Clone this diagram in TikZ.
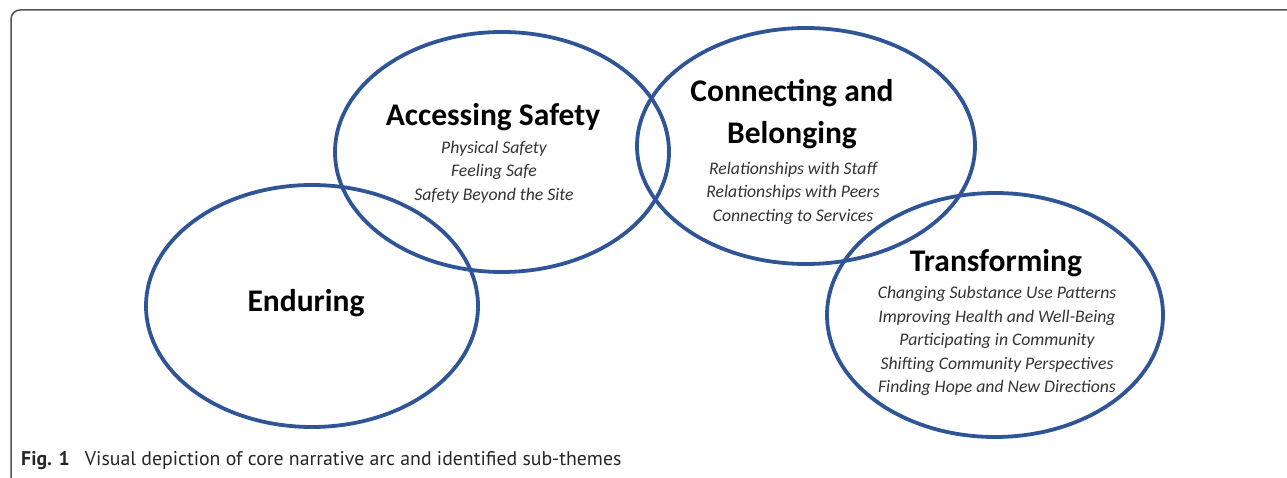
\documentclass[tikz,border=0pt]{standalone}
\usepackage{fontspec}
\setmainfont{Carlito}
\newfontfamily\capfont{PT Sans}
\definecolor{ringblue}{RGB}{47,85,151}
\definecolor{framegray}{RGB}{85,85,85}

\begin{document}
\begin{tikzpicture}[x=1pt,y=-1pt,
    ring/.style={draw=ringblue,line width=3.8pt},
    theme/.style={font=\fontsize{31.5}{42}\selectfont\bfseries,align=center,inner sep=0pt},
    subtheme/.style={font=\fontsize{17.7}{23.4}\selectfont\itshape,text=black!80,align=center,inner sep=0pt}]
    \useasboundingbox (0,0) rectangle (1287,478);
    % frame round the figure
    \draw[framegray,line width=1.5pt,rounded corners=9pt] (11,10) rectangle (1330,520);

    % the four rings
    \foreach \cx/\cy/\rx/\ry in {312/306/166/121, 502/152/167/120, 806/146/169/118, 995/315/168/122}{
        \draw[ring] (\cx,\cy) ellipse [x radius=\rx, y radius=\ry];
    }

    \node[theme] (enduring) at (306,303) {Enduring};

    \node[theme] (safety) at (493,117) {Accessing Safety};
    \node[subtheme] (safetysub) at (494,172) {Physical Safety\\Feeling Safe\\Safety Beyond the Site};

    \node[theme] (belonging) at (792,114) {Connecting and\\Belonging};
    \node[subtheme] (belongingsub) at (793,193) {Relationships with Staff\\Relationships with Peers\\Connecting to Services};

    \node[theme] (transforming) at (996,263) {Transforming};
    \node[subtheme] (transformingsub) at (997,341) {Changing Substance Use Patterns\\Improving Health and Well-Being\\Participating in Community\\Shifting Community Perspectives\\Finding Hope and New Directions};

    % caption
    \node[anchor=west,inner sep=0pt,font=\capfont\fontsize{19.8}{22}\selectfont,text=black!85] (caption) at (21,461)
        {\textbf{Fig. 1}\hspace{15pt}Visual depiction of core narrative arc and identified sub-themes};
\end{tikzpicture}
\end{document}
